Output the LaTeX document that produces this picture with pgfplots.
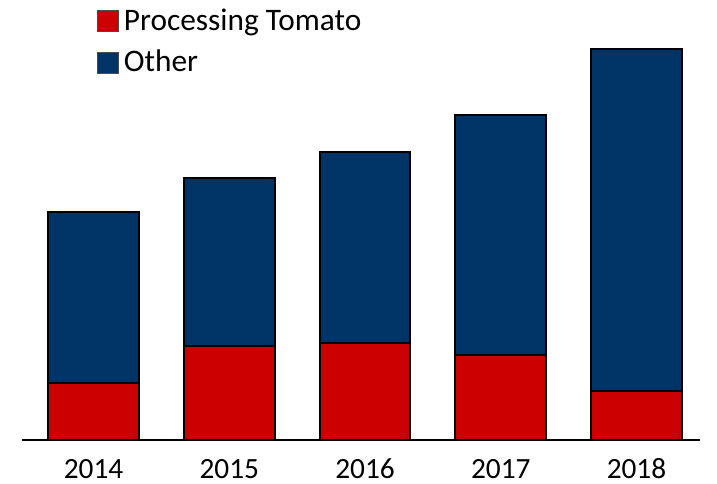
\documentclass[border=0pt]{standalone}
\usepackage{pgfplots}
\pgfplotsset{compat=1.18}
\usepackage{fontspec}
\setmainfont{Carlito}
\definecolor{tomred}{HTML}{CC0000}
\definecolor{othblue}{HTML}{003366}
\begin{document}
\begin{tikzpicture}
\begin{axis}[
  scale only axis,
  width=508.5pt, height=322.5pt,
  ybar stacked,
  bar width=0.67,
  xmin=-0.527, xmax=4.468,
  ymin=0, ymax=430,
  axis x line*=bottom,
  axis y line=none,
  axis line style={line width=1.5pt, -},
  xtick=data,
  xticklabels={2014,2015,2016,2017,2018},
  x tick label style={font=\fontsize{22}{26}\selectfont, text height=16pt, text depth=0pt, yshift=-9.2pt},
  major tick length=0pt,
  legend style={draw=none, fill=none, at={(75/678,1)}, anchor=north west,
    font=\fontsize{23.5}{28}\selectfont, row sep=10.25pt, inner sep=0pt,
    nodes={text height=12pt, text depth=4pt},
    legend cell align=left},
  legend image code/.code={\draw[#1, draw=black!70, line width=0.4pt] (0pt,-4.8pt) rectangle (15.6pt,10.8pt);},
]
\addplot[fill=tomred, draw=black, line width=1.5pt] coordinates {(0,57) (1,94) (2,97) (3,85) (4,49)};
\addplot[fill=othblue, draw=black, line width=1.5pt] coordinates {(0,171) (1,168) (2,191) (3,240) (4,342)};
\legend{\hspace{2pt}Processing Tomato, \hspace{2pt}Other}
\end{axis}
\pgfresetboundingbox
\useasboundingbox (-16.5pt,-33pt) rectangle (521.25pt,330pt);
\end{tikzpicture}
\end{document}
